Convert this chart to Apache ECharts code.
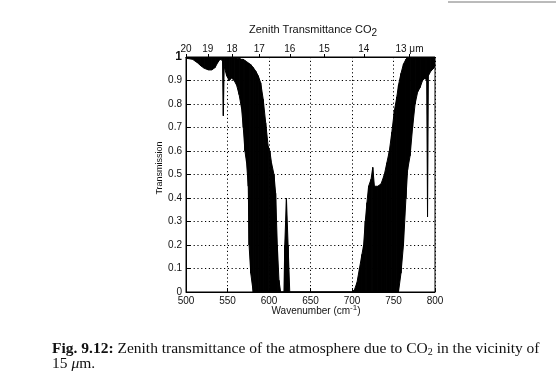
<!DOCTYPE html>
<html>
<head>
<meta charset="utf-8">
<script src="https://cdn.jsdelivr.net/npm/echarts@6/dist/echarts.min.js"></script>
<style>html,body{margin:0;padding:0;background:#fff}#c{width:560px;height:374px}</style>
</head>
<body>
<div id="c"></div>
<script>
// Wavenumber (cm^-1) sample points
const wavenumber = [500,508,514,518,522,527,531,535,538,541,544,545,546,549,552,555,558,561,564,567,569,571,573,575,576,578,581,584,587,590,593,596,599,601,603,606,608,610,612,614,618,619,621,623,625,700,703,706,709,712,714,716,718,720,723,725,727,731,735,739,742,745,748,751,754,756,759,762,765,767,770,773,776,779,782,785,788,790,791,792,795,798,800];
// lower envelope of the dense line spectrum (transmission)
const tLow = [0.995,0.99,0.975,0.962,0.952,0.945,0.945,0.955,0.975,0.99,0.985,0.75,0.96,0.92,0.9,0.91,0.9,0.88,0.84,0.78,0.7,0.6,0.55,0.45,0.2,0.08,0,0,0,0,0,0,0,0,0,0,0,0,0,0,0,0,0,0,0,0,0,0,0,0,0,0,0,0,0,0,0,0,0,0,0,0,0,0,0,0,0.08,0.2,0.4,0.52,0.58,0.7,0.8,0.85,0.87,0.9,0.91,0.9,0.32,0.92,0.94,0.95,0.96];
// upper envelope of the dense line spectrum (transmission)
const tHigh = [1,1,1,1,1,1,1,1,1,1,1,1,1,1,1,1,1,0.995,0.995,0.99,0.99,0.985,0.98,0.975,0.972,0.968,0.955,0.94,0.92,0.89,0.82,0.72,0.62,0.6,0.55,0.5,0.42,0.2,0.05,0,0,0.2,0.4,0.2,0,0,0.01,0.04,0.1,0.16,0.2,0.3,0.38,0.45,0.48,0.53,0.45,0.45,0.46,0.5,0.55,0.6,0.68,0.77,0.83,0.88,0.93,0.97,0.99,1,1,1,1,1,1,1,1,1,1,1,1,1,1];
// tick labels
const wnTicks = [500,550,600,650,700,750,800];
const tTicks = [0,0.1,0.2,0.3,0.4,0.5,0.6,0.7,0.8,0.9,1];
const umLabels = [20,19,18,17,16,15,14,13];

// segments of the band between consecutive samples
const segData = [];
for (let i = 0; i < wavenumber.length - 1; i++) {
  segData.push([wavenumber[i], tLow[i], tHigh[i], wavenumber[i+1], tLow[i+1], tHigh[i+1]]);
}
const umPositions = umLabels.map(u=>10000/u);

const chart = echarts.init(document.getElementById('c'), null, {renderer:'canvas'});
const F = 'Liberation Sans, Arial, sans-serif';
const SF = 'Liberation Serif, serif';
chart.setOption({
  animation:false,
  backgroundColor:'#fff',
  grid:{left:186,right:125,top:57,bottom:82,show:true,borderColor:'#000',borderWidth:1,backgroundColor:'transparent'},
  xAxis:[{
    type:'value',min:500,max:800,interval:50,position:'bottom',
    axisLine:{show:true,lineStyle:{color:'#000',width:1}},
    axisTick:{show:true,inside:true,length:4,lineStyle:{color:'#000'}},
    axisLabel:{color:'#111',fontFamily:F,fontSize:10,margin:4,formatter:v=>String(v)},
    splitLine:{show:true,lineStyle:{color:'#000',type:[1.2,2.6],width:1}}
  },{
    type:'value',min:500,max:800,position:'top',
    axisLine:{show:true,lineStyle:{color:'#000',width:1}},
    axisTick:{show:true,length:3,customValues:umPositions,lineStyle:{color:'#000'}},
    axisLabel:{color:'#111',fontFamily:F,fontSize:10,margin:3,customValues:umPositions,
      formatter:v=>{const u=Math.round(10000/v);return u===13?'13 μm':String(u);}},
    splitLine:{show:false}
  }],
  yAxis:{
    type:'value',min:0,max:1,interval:0.1,
    axisLine:{show:true,lineStyle:{color:'#000',width:1}},
    axisTick:{show:true,inside:true,length:4,lineStyle:{color:'#000'}},
    axisLabel:{color:'#111',fontFamily:F,fontSize:10,margin:4,
      formatter:v=>{ if(Math.abs(v-1)<1e-9) return '{b|1}'; if(v===0) return '0'; return v.toFixed(1);},
      rich:{b:{fontSize:12,fontWeight:'bold',fontFamily:F,color:'#111'}}},
    splitLine:{show:true,lineStyle:{color:'#000',type:[1.2,2.6],width:1}}
  },
  series:[{
    type:'custom',
    data:segData,
    encode:{x:[0,3],y:[1,2,4,5]},
    clip:true,
    z:3,
    renderItem:function(params, api){
      const a = api.coord([api.value(0), api.value(2)]);
      const b = api.coord([api.value(3), api.value(5)]);
      const c = api.coord([api.value(3), api.value(4)]);
      const d = api.coord([api.value(0), api.value(1)]);
      return {type:'polygon',shape:{points:[a,b,c,d]},style:{fill:'#000',stroke:'#000',lineWidth:1}};
    }
  }],
  graphic:[
    {type:'text',x:313,y:30,style:{text:'Zenith Transmittance CO{s|2}',font:'11px '+F,fill:'#111',align:'center',verticalAlign:'middle',
      rich:{s:{fontSize:10,fontFamily:F,fill:'#111',padding:[6,0,0,0]}}}},
    {type:'text',x:160,y:168,rotation:Math.PI/2,style:{text:'Transmission',font:'9px '+F,fill:'#111',align:'center',verticalAlign:'middle'}},
    {type:'text',x:316,y:311,style:{text:'Wavenumber (cm{p|-1})',font:'10px '+F,fill:'#111',align:'center',verticalAlign:'middle',
      rich:{p:{fontSize:8,fontFamily:F,fill:'#111',padding:[0,0,6,0]}}}},
    {type:'text',x:52,y:349,style:{text:'{b|Fig. 9.12:} Zenith transmittance of the atmosphere due to CO{s|2} in the vicinity of',
      font:'15.5px '+SF,fill:'#111',verticalAlign:'middle',
      rich:{b:{fontWeight:'bold',fontSize:15.5,fontFamily:SF,fill:'#111'},s:{fontSize:10,fontFamily:SF,fill:'#111',padding:[7,0,0,0]}}}},
    {type:'text',x:52,y:364,style:{text:'15 {i|μ}m.',font:'15.5px '+SF,fill:'#111',verticalAlign:'middle',
      rich:{i:{fontStyle:'italic',fontSize:15.5,fontFamily:SF,fill:'#111'}}}},
    {type:'line',shape:{x1:448,y1:2,x2:556,y2:2},style:{stroke:'#777',lineWidth:1}}
  ]
});
</script>
</body>
</html>
